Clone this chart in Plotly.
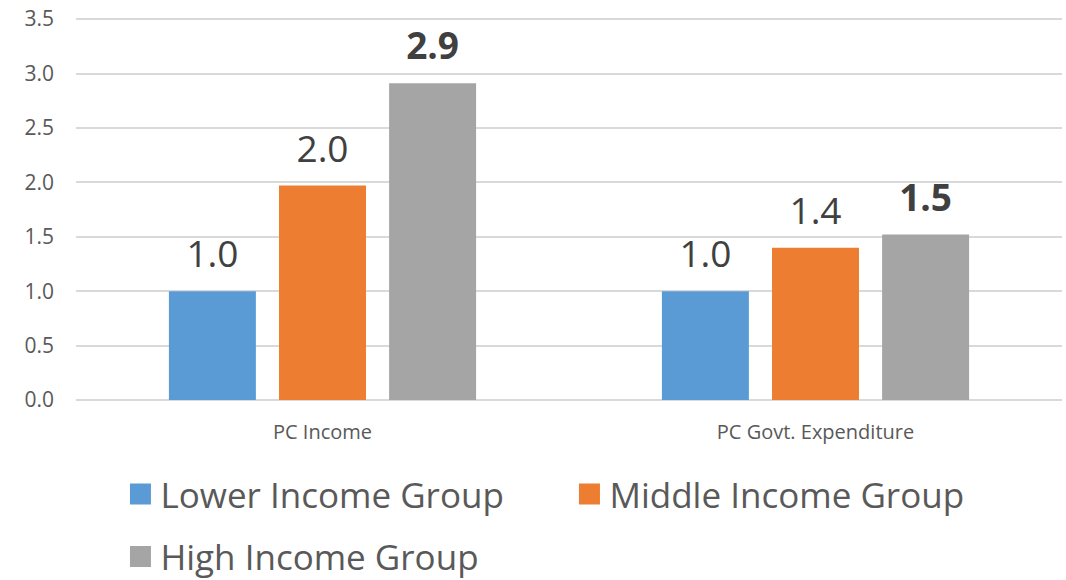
import plotly.graph_objects as go

categories = ["PC Income", "PC Govt. Expenditure"]
series_names = ["Lower Income Group", "Middle Income Group", "High Income Group"]
lower = [1.0, 1.0]
middle = [1.97, 1.40]
high = [2.91, 1.52]
colors = ["#5B9BD5", "#ED7D31", "#A5A5A5"]
bold_labels = [False, False, True]
y_ticks = [0.0, 0.5, 1.0, 1.5, 2.0, 2.5, 3.0, 3.5]

FONT = "Open Sans"
fig = go.Figure()
for i, (name, vals, col, bold) in enumerate(zip(series_names, [lower, middle, high], colors, bold_labels)):
    grp = f"g{i}"
    fig.add_trace(go.Bar(
        x=categories, y=vals, name=name, marker=dict(color=col, line=dict(width=0)),
        offsetgroup=grp, showlegend=False,
    ))
    txt = [f"<b>{v:.1f}</b>" if bold else f"{v:.1f}" for v in vals]
    fig.add_trace(go.Scatter(
        x=categories, y=vals, mode="markers+text", text=txt,
        textposition="top center", offsetgroup=grp, cliponaxis=False,
        marker=dict(size=22, color="rgba(0,0,0,0)"),
        textfont=dict(family=FONT, size=37, color="#404040"),
        showlegend=False, hoverinfo="skip",
    ))

legend_ids = ["legend", "legend", "legend2"]
for name, col, lg in zip(series_names, colors, legend_ids):
    fig.add_trace(go.Scatter(
        x=[categories[0]], y=[None], mode="markers", name=name,
        marker=dict(symbol="square", size=16, color=col, line=dict(color=col, width=5)),
        legend=lg, showlegend=True,
    ))

fig.update_layout(
    width=1066, height=580,
    margin=dict(l=76, r=4, t=14, b=180),
    paper_bgcolor="white", plot_bgcolor="white",
    barmode="group", bargap=0.33, bargroupgap=0.21,
    scattermode="group", scattergap=0.33,
    font=dict(family=FONT, color="#595959"),
    legend=dict(
        orientation="h", xref="container", yref="container",
        x=0.113, y=0.148, xanchor="left", yanchor="middle",
        font=dict(family=FONT, size=35, color="#595959"),
        entrywidth=404, entrywidthmode="pixels", itemsizing="trace",
        bgcolor="rgba(0,0,0,0)",
    ),
    legend2=dict(
        orientation="h", xref="container", yref="container",
        x=0.113, y=0.04, xanchor="left", yanchor="middle",
        font=dict(family=FONT, size=35, color="#595959"),
        itemsizing="trace", bgcolor="rgba(0,0,0,0)",
    ),
)
fig.update_xaxes(
    type="category", showgrid=False, showline=False, ticks="",
    ticklabelstandoff=18,
    tickfont=dict(family=FONT, size=20, color="#595959"),
)
fig.update_yaxes(
    range=[0, 3.51], tickvals=y_ticks, tickformat=".1f",
    showgrid=True, gridcolor="#D9D9D9", gridwidth=1.5,
    zeroline=True, zerolinecolor="#D9D9D9", zerolinewidth=1.5,
    showline=False, ticks="", ticklabelstandoff=21,
    tickfont=dict(family=FONT, size=21, color="#595959"),
)

fig.write_html("out.html", config={"displayModeBar": False},
               post_script="document.body.style.margin='0';")
